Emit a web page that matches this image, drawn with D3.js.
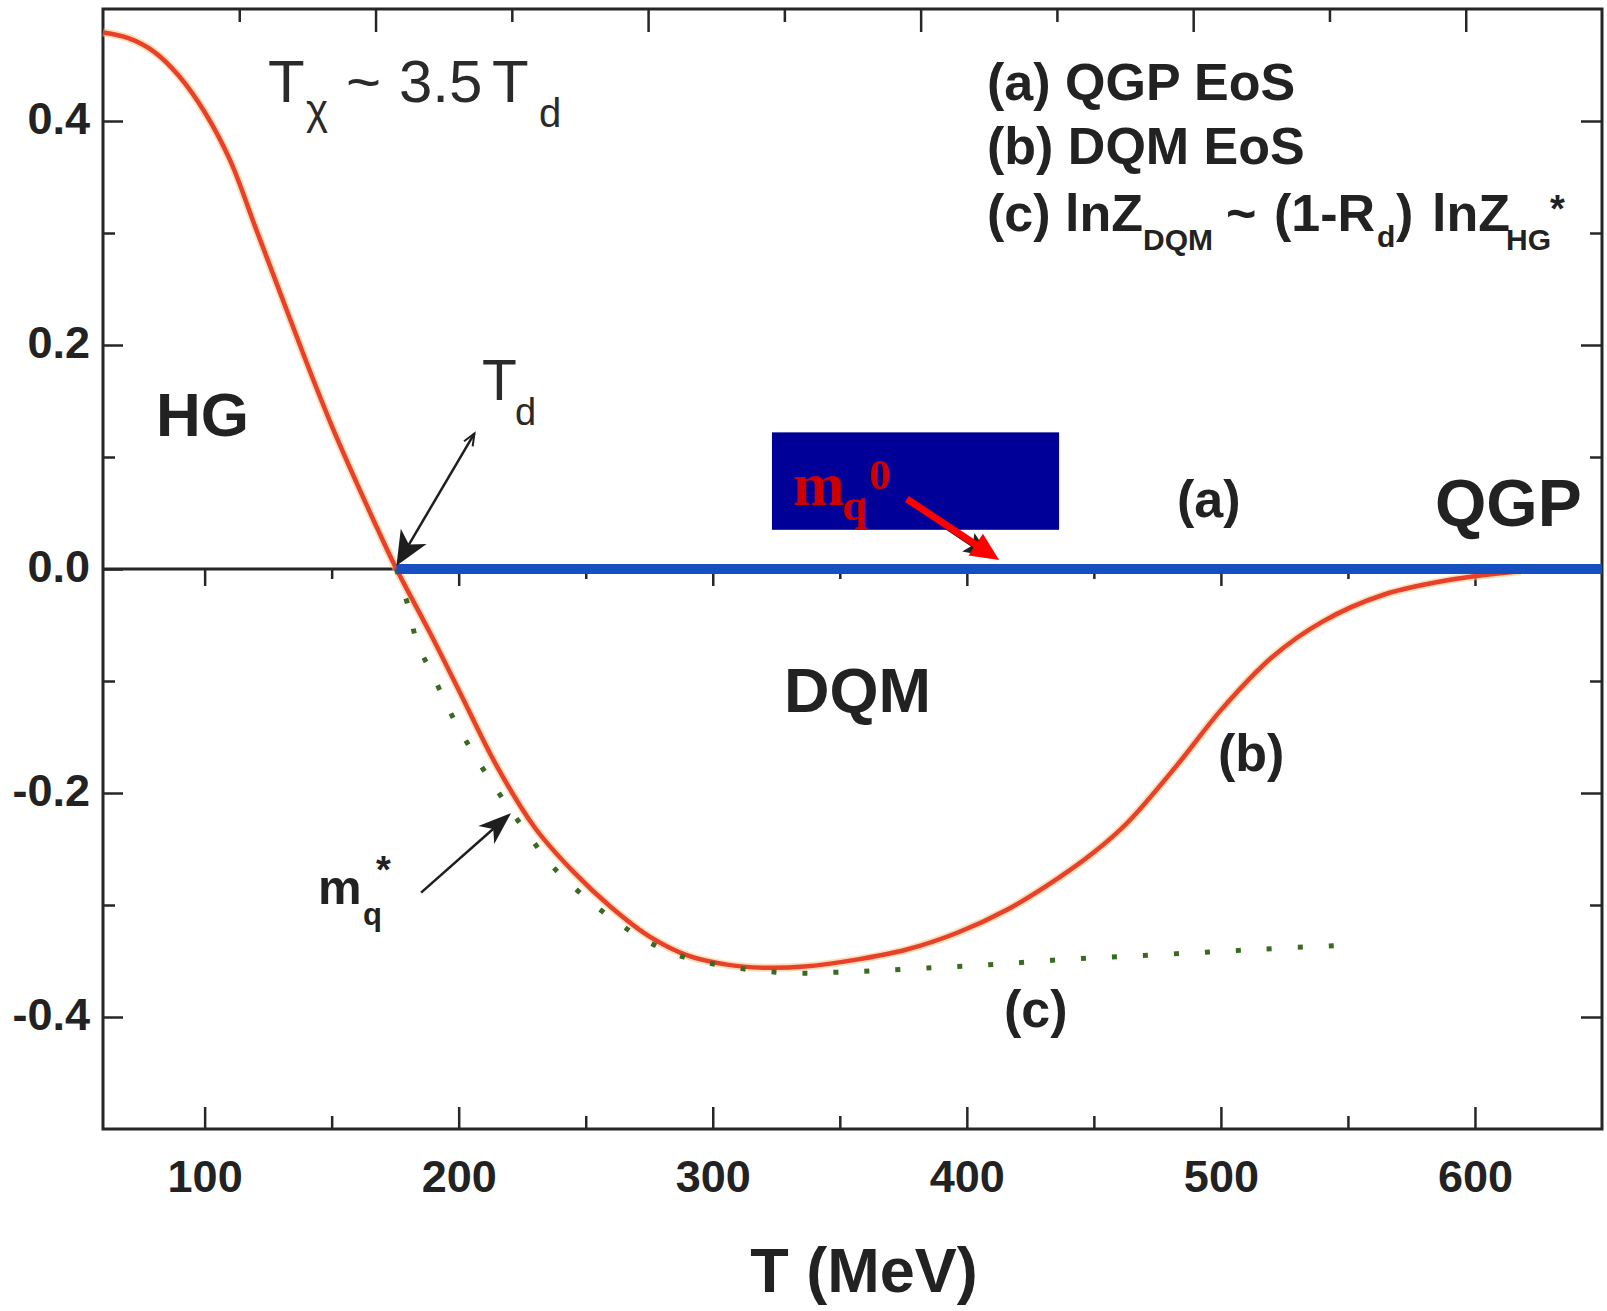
<!DOCTYPE html>
<html>
<head>
<meta charset="utf-8">
<script src="https://cdn.jsdelivr.net/npm/d3@7"></script>
<style>
  body { margin: 0; background: #fff; }
  svg { display: block; }
  text { font-family: "Liberation Sans", Arial, sans-serif; }
</style>
</head>
<body>
<svg id="chart" width="1607" height="1311"></svg>
<script>
// ---------- Data ----------
const Td = 175.5;

// (b) DQM EoS
const eosT = [60, 70, 80, 90, 100, 110, 120, 130, 140, 150, 160, 168, 175.5, 188.7, 200, 215, 230, 245, 260, 275, 290, 305, 320, 336, 356, 376, 396, 416, 436, 450, 463, 483.5, 500, 520, 540, 564, 592, 618];
const eosB = [0.479, 0.474, 0.462, 0.44, 0.408, 0.365, 0.305, 0.245, 0.185, 0.128, 0.076, 0.036, 0, -0.057, -0.108, -0.176, -0.231, -0.27, -0.302, -0.328, -0.345, -0.353, -0.356, -0.355, -0.349, -0.34, -0.325, -0.304, -0.276, -0.253, -0.227, -0.173, -0.126, -0.079, -0.047, -0.023, -0.009, -0.002];

// (c) lnZ_DQM ~ (1-R_d) lnZ_HG*
const dqmT = [175.5, 180.6, 183.6, 189.7, 195.8, 202.5, 210, 218.2, 227.3, 237.1, 249.2, 262.7, 274.7, 286.7, 298.9, 311.9, 324.9, 336.9, 348.9, 361.9, 387, 411, 436, 461, 487, 512, 537, 549];
const dqmC = [0, -0.037, -0.066, -0.094, -0.124, -0.152, -0.18, -0.208, -0.237, -0.266, -0.292, -0.316, -0.333, -0.345, -0.352, -0.357, -0.36, -0.361, -0.36, -0.359, -0.356, -0.353, -0.349, -0.346, -0.343, -0.34, -0.337, -0.336];

// (a) QGP EoS
const qgpT = [Td, 650];
const qgpA = [0, 0];

// ticks
const xMajor = [100, 200, 300, 400, 500, 600];
const xMinor = [150, 250, 350, 450, 550];
const yMajor = [-0.4, -0.2, 0, 0.2, 0.4];
const yMinor = [-0.3, -0.1, 0.1, 0.3];
const topMajor = [2, 4, 6, 8, 10];
const topMinor = [1, 3, 5, 7, 9];

// annotation arrows [fromT, fromV, toT, toV]
const tdArrow = [206.2, 0.121, Td, 0.003];
const mqStarArrow = [185.2, -0.289, 220.6, -0.218];
const hiddenArrow = [369.8, 0.0705, 409.1, 0.011];
const mq0Arrow = [376.4, 0.0625, 412.7, 0.008];
const patchBox = [323.3, 436.3, 0.035, 0.122];

// ---------- Layout ----------
const W = 1607, H = 1311;
const pLeft = 103, pRight = 1602, pTop = 9, pBottom = 1129;

const svg = d3.select("#chart");
svg.append("rect").attr("width", W).attr("height", H).attr("fill", "#fff");

const x = d3.scaleLinear().domain([60, 650]).range([pLeft, pRight]);
const y = d3.scaleLinear().domain([-0.5, 0.5]).range([pBottom, pTop]);
const xTop = d3.scaleLinear().domain([0, 11]).range([pLeft, pRight]);

const fmt = d3.formatLocale({decimal: ".", thousands: ",", grouping: [3], currency: ["", ""], minus: "-"}).format(".1f");

const axisColor = "#262626";

function styleAxis(g) {
  g.select(".domain").remove();
  g.selectAll(".tick line").attr("stroke", axisColor).attr("stroke-width", 2.5);
}

// bottom axis
const gx = svg.append("g").attr("transform", `translate(0,${pBottom})`);
gx.call(d3.axisBottom(x).tickValues(xMajor).tickSize(-22).tickSizeOuter(0).tickFormat(d3.format("d")))
  .call(styleAxis);
gx.selectAll(".tick text")
  .attr("y", 63).attr("dy", null)
  .style("font-size", "45px").style("font-weight", "bold")
  .style("fill", "#222");
svg.append("g").attr("transform", `translate(0,${pBottom})`)
  .call(d3.axisBottom(x).tickValues(xMinor).tickSize(-13).tickSizeOuter(0).tickFormat(""))
  .call(styleAxis);

// top axis
svg.append("g").attr("transform", `translate(0,${pTop})`)
  .call(d3.axisTop(xTop).tickValues(topMajor).tickSize(-23).tickSizeOuter(0).tickFormat(""))
  .call(styleAxis);
svg.append("g").attr("transform", `translate(0,${pTop})`)
  .call(d3.axisTop(xTop).tickValues(topMinor).tickSize(-13).tickSizeOuter(0).tickFormat(""))
  .call(styleAxis);

// left axis
const gy = svg.append("g").attr("transform", `translate(${pLeft},0)`);
gy.call(d3.axisLeft(y).tickValues(yMajor).tickSize(-20).tickSizeOuter(0).tickFormat(fmt))
  .call(styleAxis);
gy.selectAll(".tick text")
  .attr("x", -13).attr("dy", "0.27em")
  .style("font-size", "45px").style("font-weight", "bold")
  .style("fill", "#222");
svg.append("g").attr("transform", `translate(${pLeft},0)`)
  .call(d3.axisLeft(y).tickValues(yMinor).tickSize(-12).tickSizeOuter(0).tickFormat(""))
  .call(styleAxis);

// right axis
svg.append("g").attr("transform", `translate(${pRight},0)`)
  .call(d3.axisRight(y).tickValues(yMajor).tickSize(-21).tickSizeOuter(0).tickFormat(""))
  .call(styleAxis);
svg.append("g").attr("transform", `translate(${pRight},0)`)
  .call(d3.axisRight(y).tickValues(yMinor).tickSize(-12).tickSizeOuter(0).tickFormat(""))
  .call(styleAxis);

// zero line with ticks hanging down
svg.append("g").attr("transform", `translate(0,${y(0)})`)
  .call(d3.axisBottom(x).tickValues(xMajor).tickSize(17).tickSizeOuter(0).tickFormat(""))
  .call(styleAxis);
svg.append("g").attr("transform", `translate(0,${y(0)})`)
  .call(d3.axisBottom(x).tickValues(xMinor).tickSize(10).tickSizeOuter(0).tickFormat(""))
  .call(styleAxis);
svg.append("line")
  .attr("x1", x(60)).attr("x2", x(Td))
  .attr("y1", y(0)).attr("y2", y(0))
  .attr("stroke", axisColor).attr("stroke-width", 3);

// frame
svg.append("rect")
  .attr("x", pLeft).attr("y", pTop)
  .attr("width", pRight - pLeft).attr("height", pBottom - pTop)
  .attr("fill", "none").attr("stroke", axisColor).attr("stroke-width", 3);

// ---------- Curves ----------
const line = d3.line().x(d => x(d[0])).y(d => y(d[1])).curve(d3.curveCatmullRom.alpha(0.5));

const eos = eosT.map((t, i) => [t, eosB[i]]);
const dqm = dqmT.map((t, i) => [t, dqmC[i]]);
const qgp = qgpT.map((t, i) => [t, qgpA[i]]);

svg.append("path").attr("d", line(eos))
  .attr("fill", "none").attr("stroke", "#f6c27a").attr("stroke-width", 8).attr("opacity", 0.55);
svg.append("path").attr("d", line(eos))
  .attr("fill", "none").attr("stroke", "#e8402a").attr("stroke-width", 4.5);

svg.append("path").attr("d", line(dqm))
  .attr("fill", "none").attr("stroke", "#3a6a22").attr("stroke-width", 5)
  .attr("stroke-dasharray", "5 26");

svg.append("path").attr("d", line(qgp))
  .attr("fill", "none").attr("stroke", "#1650c0").attr("stroke-width", 10);

// ---------- Arrows ----------
function head(x1, y1, x2, y2, len, half, notch) {
  const a = Math.atan2(y2 - y1, x2 - x1);
  const c = Math.cos(a), s = Math.sin(a);
  const bx = x2 - len * c, by = y2 - len * s;
  const pts = [[x2, y2], [bx - half * s, by + half * c]];
  if (notch) pts.push([x2 - len * notch * c, y2 - len * notch * s]);
  pts.push([bx + half * s, by - half * c]);
  return pts;
}

function arrow(a, color, width, len, half, notch) {
  const x1 = x(a[0]), y1 = y(a[1]), x2 = x(a[2]), y2 = y(a[3]);
  const a2 = Math.atan2(y2 - y1, x2 - x1);
  svg.append("line")
    .attr("x1", x1).attr("y1", y1)
    .attr("x2", x2 - len * 0.6 * Math.cos(a2)).attr("y2", y2 - len * 0.6 * Math.sin(a2))
    .attr("stroke", color).attr("stroke-width", width);
  svg.append("polygon")
    .attr("points", head(x1, y1, x2, y2, len, half, notch).join(" "))
    .attr("fill", color);
}

// Td arrow (double headed: small open head on top)
arrow(tdArrow, "#1e1e1e", 2.5, 34, 15, 0.72);
{
  const x1 = x(tdArrow[2]), y1 = y(tdArrow[3]), x2 = x(tdArrow[0]), y2 = y(tdArrow[1]);
  const p = head(x1, y1, x2, y2, 12, 5, 0);
  svg.append("polyline").attr("points", [p[1], p[0], p[2]].join(" "))
    .attr("fill", "none").attr("stroke", "#1e1e1e").attr("stroke-width", 2);
}
arrow(mqStarArrow, "#1e1e1e", 2.5, 33, 12, 0.72);
arrow(hiddenArrow, "#222", 4, 26, 11, 0.8);

// blue patch and red m_q^0 arrow
svg.append("rect")
  .attr("x", x(patchBox[0])).attr("y", y(patchBox[3]))
  .attr("width", x(patchBox[1]) - x(patchBox[0]))
  .attr("height", y(patchBox[2]) - y(patchBox[3]))
  .attr("fill", "#000099");
arrow(mq0Arrow, "#ff0000", 7, 28, 13, 0);

// ---------- Text ----------
function label(txt, px, py, size, opts = {}) {
  return svg.append("text")
    .attr("x", px).attr("y", py)
    .attr("text-anchor", opts.anchor || "start")
    .style("font-size", size + "px")
    .style("font-weight", opts.weight || "bold")
    .style("font-family", opts.family || null)
    .style("fill", opts.fill || "#222")
    .text(txt);
}

// T_chi ~ 3.5 T_d
label("T", 268, 102, 60, {weight: "normal", fill: "#2a2a2a"});
label("\u03c7", 306, 124, 42, {weight: "normal", fill: "#2a2a2a"});
label("~", 346, 102, 60, {weight: "normal", fill: "#2a2a2a"});
label("3.5", 399, 102, 60, {weight: "normal", fill: "#2a2a2a"});
label("T", 492, 102, 60, {weight: "normal", fill: "#2a2a2a"});
label("d", 539, 127, 40, {weight: "normal", fill: "#2a2a2a"});

// legend-like text
label("(a) QGP EoS", 987, 100, 52);
label("(b) DQM EoS", 987, 164, 52);
label("(c) lnZ", 987, 231, 52);
label("DQM", 1143, 250, 30);
label("~", 1226, 231, 52);
label("(1-R", 1274, 231, 52);
label("d", 1377, 247, 30);
label(")", 1396, 231, 52);
label("lnZ", 1432, 231, 52);
label("HG", 1506, 250, 30);
label("*", 1550, 222, 38);

// regions
label("HG", 156, 436, 62);
label("T", 482, 400, 57, {weight: "normal", fill: "#2a2a2a"});
label("d", 515, 425, 38, {weight: "normal", fill: "#2a2a2a"});
label("DQM", 784, 712, 63);
label("(a)", 1177, 517, 52);
label("QGP", 1435, 526, 66);
label("(b)", 1218, 771, 52);
label("(c)", 1004, 1027, 52);

// m_q*
label("m", 318, 904, 49);
label("q", 363, 925, 31);
label("*", 376, 883, 38);

// m_q^0 in red serif
const serif = "'Liberation Serif', 'Times New Roman', serif";
label("m", 793, 505, 62, {family: serif, fill: "#cc0000"});
label("q", 842, 520, 45, {family: serif, fill: "#cc0000"});
label("0", 869, 489, 43, {family: serif, fill: "#cc0000"});

// axis title
label("T (MeV)", 864, 1292, 63, {anchor: "middle"});
</script>
</body>
</html>
